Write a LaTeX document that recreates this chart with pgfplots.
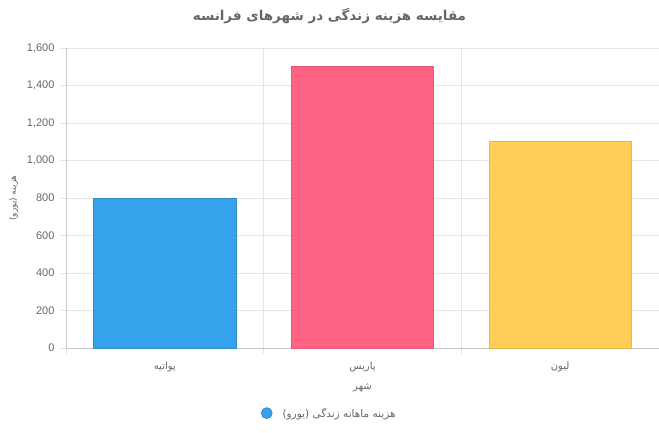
\documentclass[border=0pt]{standalone}
\usepackage{pgfplots}
\pgfplotsset{compat=1.18}
\usepackage{fontspec}
\setmainfont{Liberation Sans}
\newfontfamily\arabicfont[Script=Arabic]{DejaVu Sans}
\TeXXeTstate=1
\definecolor{cblue}{HTML}{36A2EB}
\definecolor{cpink}{HTML}{FF6384}
\definecolor{cyellow}{HTML}{FFCE56}
\definecolor{txt}{HTML}{666666}
\definecolor{gridc}{HTML}{E5E5E5}
\definecolor{axc}{HTML}{C8C8C8}
\begin{document}
\begin{tikzpicture}
\useasboundingbox (0,0) rectangle (659pt,433pt);
\node[text=txt,font=\arabicfont\bfseries\fontsize{13.5}{16}\selectfont] at (329.5pt,417pt) {\beginR مقایسه هزینه زندگی در شهرهای فرانسه\endR};
\begin{axis}[
  at={(66pt,85pt)}, anchor=south west,
  scale only axis, width=593pt, height=300pt,
  xmin=-0.5, xmax=2.5, ymin=0, ymax=1600,
  xtick={0,1,2},
  xticklabels={{\arabicfont\beginR پواتیه\endR},{\arabicfont\beginR پاریس\endR},{\arabicfont\beginR لیون\endR}},
  minor xtick={-0.5,0.5,1.5,2.5},
  ytick={0,200,...,1600},
  scaled y ticks=false,
  /pgf/number format/1000 sep={,},
  /pgf/number format/assume math mode=true,
  ymajorgrids, xminorgrids,
  major grid style={gridc, line width=0.6pt},
  minor grid style={gridc, line width=0.6pt},
  tick align=outside,
  major x tick style={draw=none},
  minor tick length=6pt,
  major tick length=6pt,
  every tick/.style={gridc, line width=0.6pt},
  axis line style={axc, line width=0.7pt},
  axis lines*=left,
  tick label style={text=txt, font=\fontsize{11}{13}\selectfont},
  xticklabel style={font=\fontsize{10}{12}\selectfont, yshift=-4pt},
  yticklabel style={xshift=-2pt},
  xlabel={\arabicfont\beginR شهر\endR},
  ylabel={\arabicfont\beginR هزینه (یورو)\endR},
  xlabel style={text=txt, font=\fontsize{10}{12}\selectfont, yshift=-5pt},
  ylabel style={text=txt, font=\fontsize{9}{11}\selectfont, yshift=2pt},
  ybar, bar width=0.72, bar shift=0pt,
  legend style={at={(axis description cs:0.444,-0.217)}, anchor=center, draw=none, fill=none,
    font=\fontsize{10.5}{12}\selectfont, text=txt},
  legend image code/.code={\fill[cblue, draw=cblue!80!black, line width=0.6pt] (0.1cm,0cm) circle (5.5pt);},
  clip=false,
]
\addplot[fill=cblue, draw=cblue!85!black, line width=0.6pt] coordinates {(0,800)};
\addlegendentry{\hspace{8pt}\arabicfont\beginR هزینه ماهانه زندگی (یورو)\endR}
\addplot[fill=cpink, draw=cpink!90!black, line width=0.6pt, forget plot] coordinates {(1,1500)};
\addplot[fill=cyellow, draw=cyellow!90!black, line width=0.6pt, forget plot] coordinates {(2,1100)};
\end{axis}
\end{tikzpicture}
\end{document}
